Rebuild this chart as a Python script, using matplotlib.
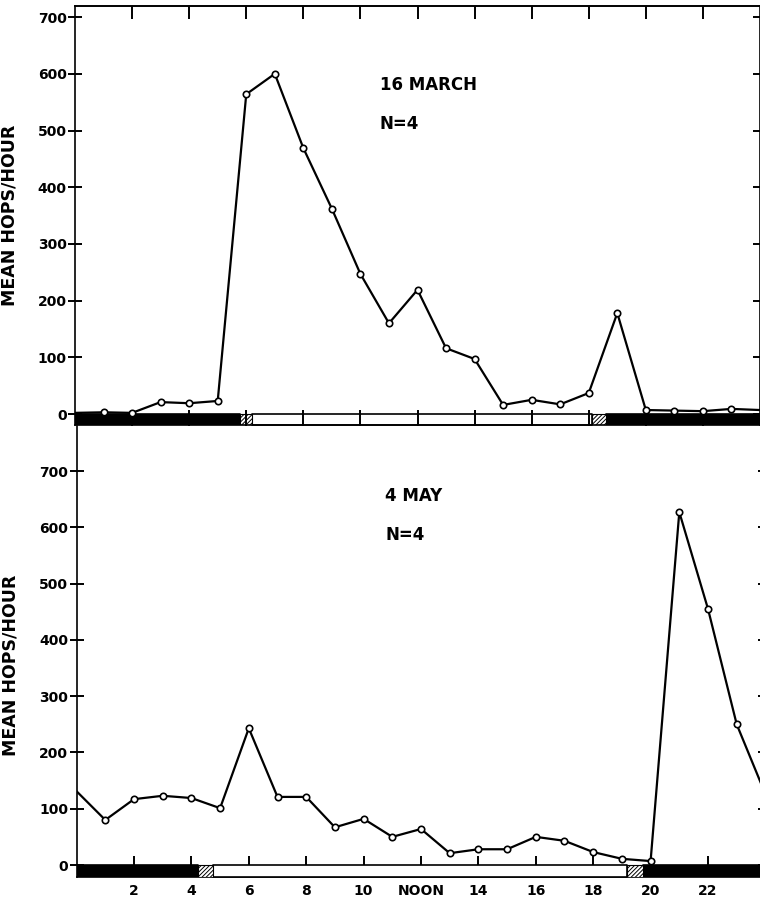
import numpy as np
import matplotlib.pyplot as plt

plt.rcParams['font.family'] = 'DejaVu Sans'
plt.rcParams['font.weight'] = 'bold'
plt.rcParams['hatch.linewidth'] = 0.7

# hour of day, 0..24 (0 and 24 are line ends only, no marker)
hours = list(range(0, 25))
march = [2, 3, 2, 21, 19, 23, 564, 600, 469, 362, 247, 160, 219, 116, 97,
         16, 25, 17, 37, 178, 7, 6, 5, 9, 7]
may = [131, 80, 117, 123, 119, 101, 243, 121, 121, 67, 82, 50, 64, 21, 28,
       28, 50, 43, 23, 11, 7, 627, 455, 250, 126]

# light regime bar (start hour, end hour)
march_night = [(0, 5.78), (18.6, 24)]
march_twilight = [(5.78, 6.2), (18.1, 18.6)]
march_day = [(6.2, 18.1)]
may_night = [(0, 4.23), (19.74, 24)]
may_twilight = [(4.23, 4.75), (19.18, 19.74)]
may_day = [(4.75, 19.18)]

xticks = [2, 4, 6, 8, 10, 12, 14, 16, 18, 20, 22]
xlabels = ['2', '4', '6', '8', '10', 'NOON', '14', '16', '18', '20', '22']
yticks = [0, 100, 200, 300, 400, 500, 600, 700]

fig = plt.figure(figsize=(7.6, 9), dpi=100)
ax1 = fig.add_axes([75 / 760, 1 - 425 / 900, 685 / 760, 419 / 900])
ax2 = fig.add_axes([76.6 / 760, 1 - 877 / 900, 688.8 / 760, 451 / 900])


def light_bar(ax, night, twilight, day, ybot, z):
    spans = lambda s: [(a, b - a) for a, b in s]
    ax.broken_barh(spans(night), (ybot, -ybot), facecolor='black',
                   edgecolor='black', lw=1.2, zorder=z)
    ax.broken_barh(spans(day), (ybot, -ybot), facecolor='white',
                   edgecolor='black', lw=1.2, zorder=z)
    ax.broken_barh(spans(twilight), (ybot, -ybot), facecolor='white',
                   edgecolor='black', hatch='////////', lw=0.8, zorder=z)


def style(ax, ylim):
    ax.set_xlim(0, 24)
    ax.set_ylim(*ylim)
    ax.set_yticks(yticks)
    ax.set_xticks(xticks)
    for s in ax.spines.values():
        s.set_linewidth(1.2)
    ax.tick_params(axis='y', direction='inout', length=10, width=1.4,
                   right=True, labelsize=10, pad=1)
    ax.set_ylabel('MEAN HOPS/HOUR', fontsize=12.5, fontweight='bold')


# top panel: 16 March
light_bar(ax1, march_night, march_twilight, march_day, -19.4, 1.5)
ax1.plot(hours, march, color='black', lw=1.6, marker='o', ms=4.6,
         mfc='white', mec='black', mew=1.2, markevery=slice(1, 24),
         zorder=4)
style(ax1, (-19.4, 719.6))
ax1.tick_params(axis='x', direction='inout', length=22, width=1.4,
                labelbottom=False)
top = ax1.secondary_xaxis('top')
top.set_xticks(xticks)
top.tick_params(direction='in', length=9, width=1.4, labeltop=False)
top.spines['top'].set_linewidth(1.2)
ax1.yaxis.set_label_coords(-0.082, 0.5)
ax1.text(10.68, 580, '16 MARCH', fontsize=12, fontweight='bold', va='center')
ax1.text(10.68, 511, 'N=4', fontsize=12, fontweight='bold', va='center')

# bottom panel: 4 May
light_bar(ax2, may_night, may_twilight, may_day, -21.3, 3)
ax2.plot(hours, may, color='black', lw=1.6, marker='o', ms=4.6,
         mfc='white', mec='black', mew=1.2, markevery=slice(1, 24),
         zorder=4)
style(ax2, (-21.3, 780))
ax2.spines['top'].set_visible(False)
ax2.tick_params(axis='x', direction='in', length=15, width=1.4,
                labelsize=10, pad=5)
ax2.set_xticklabels(xlabels)
ax2.yaxis.set_label_coords(-0.083, 0.47)
ax2.text(10.75, 655, '4 MAY', fontsize=12, fontweight='bold', va='center')
ax2.text(10.75, 586, 'N=4', fontsize=12, fontweight='bold', va='center')

fig.savefig('out.png', dpi=100)
